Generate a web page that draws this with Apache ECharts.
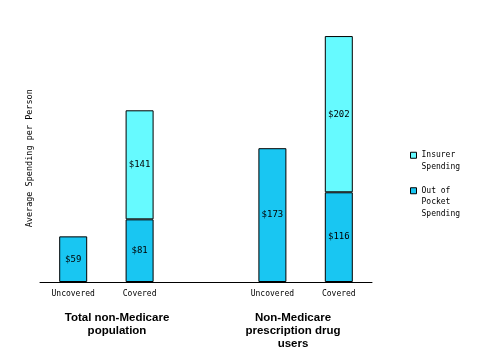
<!DOCTYPE html>
<html>
<head>
<meta charset="utf-8">
<script src="https://cdn.jsdelivr.net/npm/echarts@6/dist/echarts.min.js"></script>
<style>html,body{margin:0;padding:0;background:#fff;}#c{width:480px;height:360px;}</style>
</head>
<body>
<div id="c"></div>
<script>
var categories = ['Uncovered', 'Covered', '', 'Uncovered', 'Covered'];
var outOfPocket = [59, 81, null, 173, 116];
var insurer = [null, 141, null, null, 202];
var seriesNames = ['Out of Pocket Spending', 'Insurer Spending'];
var legendLabels = { 'Insurer Spending': '\nInsurer\nSpending', 'Out of Pocket Spending': '\n\nOut of\nPocket\nSpending' };
var groupNames = ['Total non-Medicare\npopulation', 'Non-Medicare\nprescription drug\nusers'];
var yTitle = 'Average Spending per Person';

var chart = echarts.init(document.getElementById('c'), null, { renderer: 'canvas' });
var mono = 'DejaVu Sans Mono';
var lblStyle = {
  show: true, position: 'inside', color: '#000', fontFamily: mono, fontSize: 9,
  formatter: function (p) { return p.value == null ? '' : '$' + p.value; }
};
var LH = 11.5;
function mkLegend(name, top) {
  return {
    orient: 'vertical', left: 410, top: top, padding: 0, itemWidth: 6, itemHeight: 6, icon: 'rect',
    data: [name],
    formatter: function (n) { return legendLabels[n]; },
    textStyle: { fontFamily: mono, fontSize: 8, color: '#000', lineHeight: LH },
    itemStyle: { borderColor: '#000', borderWidth: 1 }
  };
}
chart.setOption({
  animation: false,
  backgroundColor: '#fff',
  grid: { left: 40, right: 108, top: 34.5, bottom: 78 },
  legend: [mkLegend('Insurer Spending', 138), mkLegend('Out of Pocket Spending', 162)],
  xAxis: {
    type: 'category', data: categories,
    axisLine: { lineStyle: { color: '#000', width: 1 } },
    axisTick: { show: false },
    axisLabel: { fontFamily: mono, fontSize: 8, color: '#000', margin: 8 }
  },
  yAxis: {
    type: 'value', min: 0, max: 320,
    name: yTitle, nameLocation: 'middle', nameGap: 6, nameRotate: 90,
    nameTextStyle: { fontFamily: mono, fontSize: 8.5, color: '#000' },
    axisLine: { show: false }, axisTick: { show: false }, axisLabel: { show: false },
    splitLine: { show: false }
  },
  series: [
    { name: seriesNames[0], type: 'bar', stack: 's', data: outOfPocket, barWidth: 28,
      itemStyle: { color: '#19C6F2', borderColor: '#000', borderWidth: 1 }, label: lblStyle },
    { name: seriesNames[1], type: 'bar', stack: 's', data: insurer, barWidth: 28,
      itemStyle: { color: '#66FAFF', borderColor: '#000', borderWidth: 1 }, label: lblStyle }
  ],
  graphic: [
    { type: 'text', x: 117, y: 311, style: { text: groupNames[0], fill: '#000', font: 'bold 11.5px "Liberation Sans"', textAlign: 'center', lineHeight: 13.5 } },
    { type: 'text', x: 293, y: 311, style: { text: groupNames[1], fill: '#000', font: 'bold 11.5px "Liberation Sans"', textAlign: 'center', lineHeight: 13 } }
  ]
});
</script>
</body>
</html>
